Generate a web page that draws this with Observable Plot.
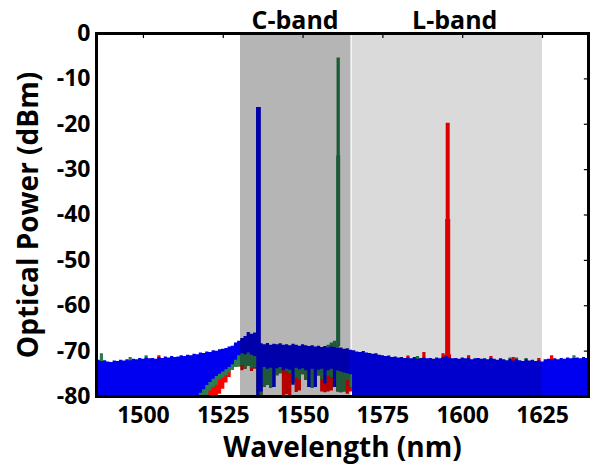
<!DOCTYPE html>
<html>
<head>
<meta charset="utf-8">
<script src="https://cdn.jsdelivr.net/npm/d3@7"></script>
<script src="https://cdn.jsdelivr.net/npm/@observablehq/plot@0.6"></script>
<style>
  html, body { margin: 0; padding: 0; background: #fff; }
  #chart { width: 592px; height: 465px; }
</style>
</head>
<body>
<div id="chart"></div>
<script>
// ---------- data ----------
// wavelength grid, 1 nm steps 1485..1640
const wavelength = d3.range(1485, 1641);

// blue spectrum: upper envelope and lower envelope (dBm)
const blueUpper = [
  -72.2, -72.0, -72.3, -72.1, -72.4, -72.5, -72.2, -72.3, -72.0, -72.2,
  -71.9, -72.1, -71.8, -71.9, -71.6, -71.8, -71.5, -71.7, -71.6, -71.8,
  -71.4, -71.6, -71.3, -71.5, -71.2, -71.4, -71.3, -71.0, -71.2, -70.9,
  -71.0, -70.7, -70.8, -70.4, -70.5, -70.2, -70.3, -69.9, -70.0, -69.7,
  -69.6, -69.4, -69.1, -68.9, -68.2, -67.8, -67.2, -66.8, -65.9, -66.3,
  -66.0, -66.5, -68.4, -68.6, -68.3, -68.7, -68.5, -68.6, -68.4, -68.7,
  -68.6, -68.8, -68.5, -68.7, -68.9, -68.6, -68.8, -69.0, -68.8, -69.1,
  -68.9, -69.2, -69.0, -69.3, -69.1, -69.2, -69.4, -69.3, -69.6, -69.5,
  -69.8, -69.9, -70.2, -70.3, -70.1, -70.4, -70.5, -70.7, -70.6, -70.9,
  -71.0, -71.2, -71.1, -71.4, -71.3, -71.5, -71.4, -71.6, -71.5, -71.7,
  -71.4, -71.8, -71.6, -71.5, -71.7, -71.6, -71.8, -71.5, -71.7, -71.4,
  -71.2, -71.5, -71.7, -71.6, -71.8, -71.5, -71.7, -71.6, -71.9, -71.7,
  -71.6, -71.8, -71.7, -71.9, -71.6, -71.8, -72.0, -71.7, -71.9, -72.1,
  -71.8, -72.2, -71.9, -72.1, -72.3, -71.9, -72.2, -72.0, -72.3, -72.1,
  -72.4, -71.9, -71.8, -71.9, -71.7, -71.9, -71.6, -71.8, -71.5, -71.7,
  -71.6, -71.5, -71.7, -71.4, -71.6, -71.5
];
const blueLower = [
  -80, -80, -80, -80, -80, -80, -80, -80, -80, -80,
  -80, -80, -80, -80, -80, -80, -80, -80, -80, -80,
  -80, -80, -80, -80, -80, -80, -80, -80, -80, -80,
  -80, -80, -80, -79.3, -78.5, -77.6, -76.9, -76.2, -75.6, -75.1,
  -74.6, -74.1, -73.6, -73.0, -72.0, -71.0, -70.6, -70.8, -70.4, -70.9,
  -71.2, -80, -79, -73.6, -74.0, -73.8, -78.0, -73.9, -73.6, -74.3,
  -74.0, -74.2, -77.5, -73.8, -74.1, -73.9, -74.3, -78.0, -74.0, -78.0,
  -74.2, -74.0, -77.2, -74.3, -74.0, -78.0, -74.4, -74.6, -74.8, -75.0,
  -75.2, -80, -80, -80, -80, -80, -80, -80, -80, -80,
  -80, -80, -80, -80, -80, -80, -80, -80, -80, -80,
  -80, -80, -80, -80, -80, -80, -80, -80, -80, -80,
  -80, -80, -80, -80, -80, -80, -80, -80, -80, -80,
  -80, -80, -80, -80, -80, -80, -80, -80, -80, -80,
  -80, -80, -80, -80, -80, -80, -80, -80, -80, -80,
  -80, -80, -80, -80, -80, -80, -80, -80, -80, -80,
  -80, -80, -80, -80, -80, -80
];

// green spectrum
const greenUpper = [
  -72.6, -72.4, -70.6, -72.5, -72.8, -72.9, -72.6, -72.7, -72.4, -72.6,
  -72.3, -71.4, -72.2, -72.3, -72.0, -72.2, -71.0, -72.1, -72.0, -72.2,
  -71.8, -72.0, -71.7, -71.9, -71.6, -71.8, -71.7, -71.4, -71.6, -71.3,
  -71.4, -71.1, -71.2, -70.8, -70.9, -70.6, -70.7, -70.3, -70.4, -70.1,
  -70.0, -69.8, -69.5, -69.3, -68.6, -68.2, -67.6, -67.2, -66.3, -66.7,
  -66.4, -66.9, -68.8, -69.0, -68.7, -69.1, -68.9, -69.0, -68.8, -69.1,
  -69.0, -69.2, -68.9, -69.1, -69.3, -69.0, -69.2, -69.4, -69.2, -69.5,
  -69.3, -69.6, -69.4, -68.7, -68.2, -67.8, -68.6, -69.7, -70.0, -69.9,
  -70.2, -70.3, -70.6, -70.7, -70.5, -70.8, -70.9, -71.1, -71.0, -71.3,
  -71.4, -71.6, -71.5, -71.8, -71.7, -71.9, -71.8, -72.0, -71.9, -72.1,
  -71.8, -71.2, -72.0, -71.9, -72.1, -72.0, -72.2, -71.9, -72.1, -71.8,
  -71.6, -71.9, -72.1, -72.0, -72.2, -71.9, -72.1, -72.0, -72.3, -72.1,
  -72.0, -72.2, -72.1, -72.3, -72.0, -72.2, -72.4, -72.1, -72.3, -72.5,
  -71.5, -72.6, -71.5, -72.5, -72.7, -71.6, -72.6, -72.4, -72.7, -72.5,
  -72.8, -72.3, -72.2, -72.3, -72.1, -72.3, -72.0, -72.2, -71.9, -72.1,
  -71.0, -71.9, -72.1, -71.8, -72.0, -71.9
];
const greenLower = [
  -80, -80, -80, -80, -80, -80, -80, -80, -80, -80,
  -80, -80, -80, -80, -80, -80, -80, -80, -80, -80,
  -80, -80, -80, -80, -80, -80, -80, -80, -80, -80,
  -80, -80, -80, -80, -80, -80, -78.8, -78.0, -77.5, -76.4,
  -76.0, -75.4, -74.8, -74.2, -73.6, -73.5, -73.2, -74.0, -73.4, -73.9,
  -73.6, -80, -80, -78.0, -77.6, -78.2, -78.0, -75.4, -75.0, -74.3,
  -74.5, -75.0, -77.0, -76.0, -76.4, -75.2, -76.5, -78.0, -78.2, -78.0,
  -75.5, -76.3, -77.0, -75.5, -75.8, -78.0, -79.0, -79.2, -79.0, -76.5,
  -78.0, -80, -80, -80, -80, -80, -80, -80, -80, -80,
  -80, -80, -80, -80, -80, -80, -80, -80, -80, -80,
  -80, -80, -80, -80, -80, -80, -80, -80, -80, -80,
  -80, -80, -80, -80, -80, -80, -80, -80, -80, -80,
  -80, -80, -80, -80, -80, -80, -80, -80, -80, -80,
  -80, -80, -80, -80, -80, -80, -80, -80, -80, -80,
  -80, -80, -80, -80, -80, -80, -80, -80, -80, -80,
  -80, -80, -80, -80, -80, -80
];

// red spectrum
const redUpper = [
  -73.0, -72.8, -72.7, -72.9, -73.2, -73.3, -73.0, -73.1, -72.8, -73.0,
  -72.7, -72.8, -72.6, -72.7, -72.4, -72.6, -72.3, -72.5, -72.4, -72.6,
  -71.0, -72.4, -72.1, -72.3, -72.0, -72.2, -72.1, -71.8, -72.0, -71.7,
  -71.8, -71.5, -71.6, -71.2, -71.3, -71.0, -71.1, -70.7, -70.8, -70.5,
  -70.4, -70.2, -69.9, -69.7, -69.0, -68.6, -68.0, -67.6, -66.7, -67.1,
  -66.8, -67.3, -69.2, -69.4, -69.1, -69.5, -69.3, -69.4, -69.2, -69.5,
  -69.4, -69.6, -69.3, -69.5, -69.7, -69.4, -69.6, -69.8, -69.6, -69.9,
  -69.7, -70.0, -69.8, -69.6, -69.5, -69.6, -69.9, -70.1, -70.4, -70.3,
  -70.6, -70.7, -71.0, -71.1, -70.9, -71.2, -71.3, -71.5, -71.4, -71.7,
  -71.8, -72.0, -71.9, -72.2, -72.1, -72.3, -72.2, -72.4, -71.1, -72.5,
  -72.2, -72.6, -72.4, -70.3, -72.5, -72.4, -72.6, -72.3, -72.5, -70.6,
  -70.9, -70.8, -72.5, -72.4, -72.6, -72.3, -72.5, -71.0, -72.7, -72.5,
  -72.4, -72.6, -72.5, -72.7, -71.2, -72.6, -72.8, -72.5, -72.7, -72.9,
  -72.6, -71.4, -72.5, -72.9, -73.1, -72.7, -73.0, -72.8, -73.1, -71.6,
  -73.2, -72.7, -72.6, -71.0, -72.5, -72.7, -72.4, -72.6, -72.3, -72.5,
  -72.4, -72.3, -72.5, -72.2, -72.4, -72.3
];
const redLower = [
  -80, -80, -80, -80, -80, -80, -80, -80, -80, -80,
  -80, -80, -80, -80, -80, -80, -80, -80, -80, -80,
  -80, -80, -80, -80, -80, -80, -80, -80, -80, -80,
  -80, -80, -80, -80, -80, -80, -80, -80, -80, -79.5,
  -78.4, -77.0, -75.8, -74.2, -73.6, -73.5, -74.3, -74.0, -73.4, -74.5,
  -74.0, -80, -80, -78.0, -77.6, -78.2, -78.0, -75.4, -75.0, -80,
  -79.6, -80, -77.0, -79.1, -78.8, -75.2, -76.5, -78.0, -78.2, -78.0,
  -75.5, -79.0, -79.2, -79.0, -78.8, -78.0, -79.0, -79.2, -79.0, -79.5,
  -79.0, -80, -80, -80, -80, -80, -80, -80, -80, -80,
  -80, -80, -80, -80, -80, -80, -80, -80, -80, -80,
  -80, -80, -80, -80, -80, -80, -80, -80, -80, -80,
  -80, -80, -80, -80, -80, -80, -80, -80, -80, -80,
  -80, -80, -80, -80, -80, -80, -80, -80, -80, -80,
  -80, -80, -80, -80, -80, -80, -80, -80, -80, -80,
  -80, -80, -80, -80, -80, -80, -80, -80, -80, -80,
  -80, -80, -80, -80, -80, -80
];

// laser lines (blue, green, red)
const peakWavelength = [1536, 1561, 1595.3];
const peakPower = [-16.3, -5.4, -19.8];
const peakShoulder = [-16.3, -27, -41];
const peakBase = [-70, -69, -71];

// bands
const bandNames = ["C-band", "L-band"];
const bandStart = [1530.4, 1565.4];
const bandEnd = [1565, 1625];
const bandLabelAt = [1547.5, 1597.5];

// axes
const xTicks = [1500, 1525, 1550, 1575, 1600, 1625];
const yTicks = [0, -10, -20, -30, -40, -50, -60, -70, -80];
const xTitle = "Wavelength (nm)";
const yTitle = "Optical Power (dBm)";

// ---------- build ----------
const colBlue = "#0000f0", colGreen = "#2b7f4e", colRed = "#ff0000";
const mk = (up, lo) => wavelength.map((w, i) => ({w, hi: up[i], lo: lo[i]}));
const blueData = mk(blueUpper, blueLower);
const greenData = mk(greenUpper, greenLower);
const redData = mk(redUpper, redLower);
const peaks = peakWavelength.map((w, i) => ({w, top: peakPower[i], sh: peakShoulder[i], base: peakBase[i]}));
const peakColors = [colBlue, colGreen, colRed];
const bands = bandNames.map((n, i) => ({n, a: bandStart[i], b: bandEnd[i], c: bandLabelAt[i]}));

const plot = Plot.plot({
  width: 592,
  height: 465,
  marginLeft: 96,
  marginRight: 4,
  marginTop: 33,
  marginBottom: 69,
  style: {fontFamily: "'Open Sans', sans-serif", fontWeight: "bold", fontSize: "23px", color: "black", background: "white"},
  x: {domain: [1485.3, 1639.4], ticks: xTicks, tickFormat: "d", tickSize: 0, tickPadding: 10, label: null},
  y: {domain: [-80, 0], ticks: yTicks, tickFormat: d => String(d), tickSize: 0, tickPadding: 6, label: null},
  marks: [
    Plot.areaY(redData, {x: "w", y1: "lo", y2: "hi", curve: "step", fill: colRed, clip: true}),
    Plot.areaY(greenData, {x: "w", y1: "lo", y2: "hi", curve: "step", fill: colGreen, clip: true}),
    Plot.areaY(blueData, {x: "w", y1: "lo", y2: "hi", curve: "step", fill: colBlue, clip: true}),
    Plot.ruleX(peaks, {x: "w", y1: "base", y2: "top", stroke: (d, i) => peakColors[i], strokeWidth: (d, i) => [4.5, 3.3, 4][i]}),
    Plot.ruleX(peaks, {x: "w", y1: "base", y2: "sh", stroke: (d, i) => peakColors[i], strokeWidth: (d, i) => [4.5, 4, 5][i]}),
    Plot.rect(bands, {x1: "a", x2: "b", fill: "black", fillOpacity: (d, i) => [0.29, 0.145][i]}),
    Plot.frame({stroke: "black", strokeWidth: 3}),
    Plot.ruleX(xTicks, {x: d => d, y1: 0, y2: -1.1, stroke: "black", strokeWidth: 1.2}),
    Plot.ruleY(yTicks.slice(1, -1), {y: d => d, x1: 1639.4, x2: 1638.1, stroke: "black", strokeWidth: 1.2}),
    Plot.text(bands, {x: "c", text: "n", frameAnchor: "top", lineAnchor: "middle", dy: -13, fontSize: 25, fontWeight: "bold", fill: "black"}),
    Plot.text([xTitle], {frameAnchor: "bottom", lineAnchor: "middle", textAnchor: "middle", dy: 52, fontSize: 28, fontWeight: "bold", fill: "black"}),
    Plot.text([yTitle], {frameAnchor: "left", lineAnchor: "middle", textAnchor: "middle", dx: -67, rotate: -90, fontSize: 28, fontWeight: "bold", fill: "black"})
  ]
});
document.getElementById("chart").appendChild(plot);
</script>
</body>
</html>
